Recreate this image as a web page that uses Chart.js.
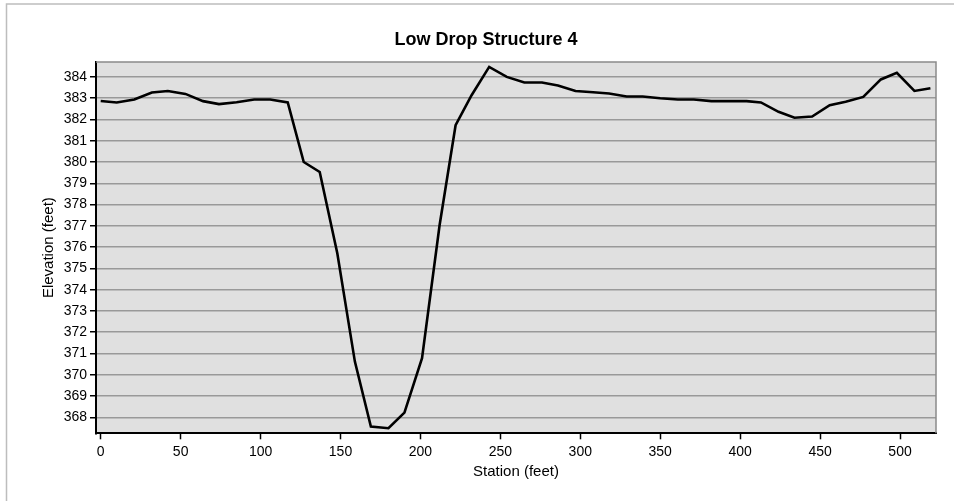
<!DOCTYPE html>
<html>
<head>
<meta charset="utf-8">
<script src="https://cdn.jsdelivr.net/npm/chart.js@4.4.0/dist/chart.umd.min.js"></script>
<style>
  html, body { margin: 0; padding: 0; background: #fff; }
  #wrap { width: 954px; height: 501px; position: relative; }
</style>
</head>
<body>
<div id="wrap"><canvas id="myChart"></canvas></div>
<script>
// station (feet) and elevation (feet)
var stations = [0, 10, 21, 32, 42, 53, 64, 74, 85, 96, 106, 117, 127, 137, 148, 159, 169, 180, 190, 201,
  212, 222, 232, 243, 254, 265, 276, 286, 297, 308, 318, 329, 339, 350, 361, 371, 382, 393, 404, 413,
  424, 434, 445, 456, 466, 477, 488, 498, 509, 519];
var elevations = [382.87, 382.80, 382.94, 383.27, 383.34, 383.20, 382.86, 382.72, 382.81, 382.94,
  382.94, 382.80, 380.00, 379.53, 375.71, 370.62, 367.57, 367.49, 368.22, 370.78,
  377.04, 381.73, 383.14, 384.47, 384.00, 383.74, 383.74, 383.60, 383.34, 383.28,
  383.22, 383.08, 383.08, 383.00, 382.94, 382.94, 382.86, 382.86, 382.86, 382.80,
  382.36, 382.08, 382.14, 382.67, 382.83, 383.06, 383.88, 384.19, 383.34, 383.47];

var xTicks = [0, 50, 100, 150, 200, 250, 300, 350, 400, 450, 500];
var yTicks = [368, 369, 370, 371, 372, 373, 374, 375, 376, 377, 378, 379, 380, 381, 382, 383, 384];

var points = stations.map(function (s, i) { return { x: s, y: elevations[i] }; });

Chart.defaults.font.family = '"Liberation Sans", Arial, sans-serif';
Chart.defaults.color = '#000';

// grey plot background, grey top/right edge and the outer frame
var framePlugin = {
  id: 'frame',
  beforeDraw: function (chart) {
    var c = chart.ctx, a = chart.chartArea;
    c.save();
    c.fillStyle = '#fff';
    c.fillRect(0, 0, chart.width, chart.height);
    c.strokeStyle = '#bdbdbd';
    c.lineWidth = 1.5;
    c.beginPath();
    c.moveTo(6.5, chart.height);
    c.lineTo(6.5, 4);
    c.lineTo(chart.width, 4);
    c.stroke();
    c.fillStyle = '#e0e0e0';
    c.fillRect(a.left, a.top, a.right - a.left, a.bottom - a.top);
    c.restore();
  },
  afterDraw: function (chart) {
    var c = chart.ctx, a = chart.chartArea;
    c.save();
    c.strokeStyle = '#8a8a8a';
    c.lineWidth = 1.5;
    c.beginPath();
    c.moveTo(a.left, a.top);
    c.lineTo(a.right, a.top);
    c.lineTo(a.right, a.bottom);
    c.stroke();
    c.restore();
  }
};

var chartData = {
  datasets: [{
    label: 'Profile',
    data: points,
    borderColor: '#000',
    borderWidth: 2.6,
    pointRadius: 0,
    tension: 0,
    fill: false
  }]
};

var chartOptions = {
  responsive: true,
  maintainAspectRatio: false,
  animation: false,
  layout: { padding: { left: 36, right: 18, top: 10, bottom: 16 } },
  plugins: {
    legend: { display: false },
    tooltip: { enabled: false },
    title: {
      display: true,
      text: 'Low Drop Structure 4',
      font: { size: 18, weight: 'bold' },
      color: '#000',
      padding: { top: 19.2, bottom: 11.2 }
    }
  },
  scales: {
    x: {
      type: 'linear',
      min: -2.94,
      max: 522.5,
      afterBuildTicks: function (s) { s.ticks = xTicks.map(function (v) { return { value: v }; }); },
      afterFit: function (s) { s.height = 51.7; },
      ticks: { font: { size: 14 }, padding: 4, maxRotation: 0, autoSkip: false },
      grid: { drawOnChartArea: false, drawTicks: true, tickLength: 6, tickColor: '#000', tickWidth: 1.5 },
      border: { color: '#000', width: 2 },
      title: { display: true, text: 'Station (feet)', font: { size: 15 }, padding: { top: 4, bottom: 4 } }
    },
    y: {
      type: 'linear',
      min: 367.25,
      max: 384.7,
      afterBuildTicks: function (s) { s.ticks = yTicks.map(function (v) { return { value: v }; }); },
      afterFit: function (s) { s.width = 60; },
      ticks: { font: { size: 14 }, padding: 3, autoSkip: false },
      grid: { color: '#999', lineWidth: 1.5, tickLength: 6, tickColor: '#000', tickWidth: 1.5 },
      border: { color: '#000', width: 2 },
      title: { display: true, text: 'Elevation (feet)', font: { size: 15 }, padding: { top: 4, bottom: 4 } }
    }
  }
};

var element = document.getElementById('myChart').getContext('2d');
var chart = new Chart(element, { type: 'line', data: chartData, options: chartOptions, plugins: [framePlugin] });
</script>
</body>
</html>
